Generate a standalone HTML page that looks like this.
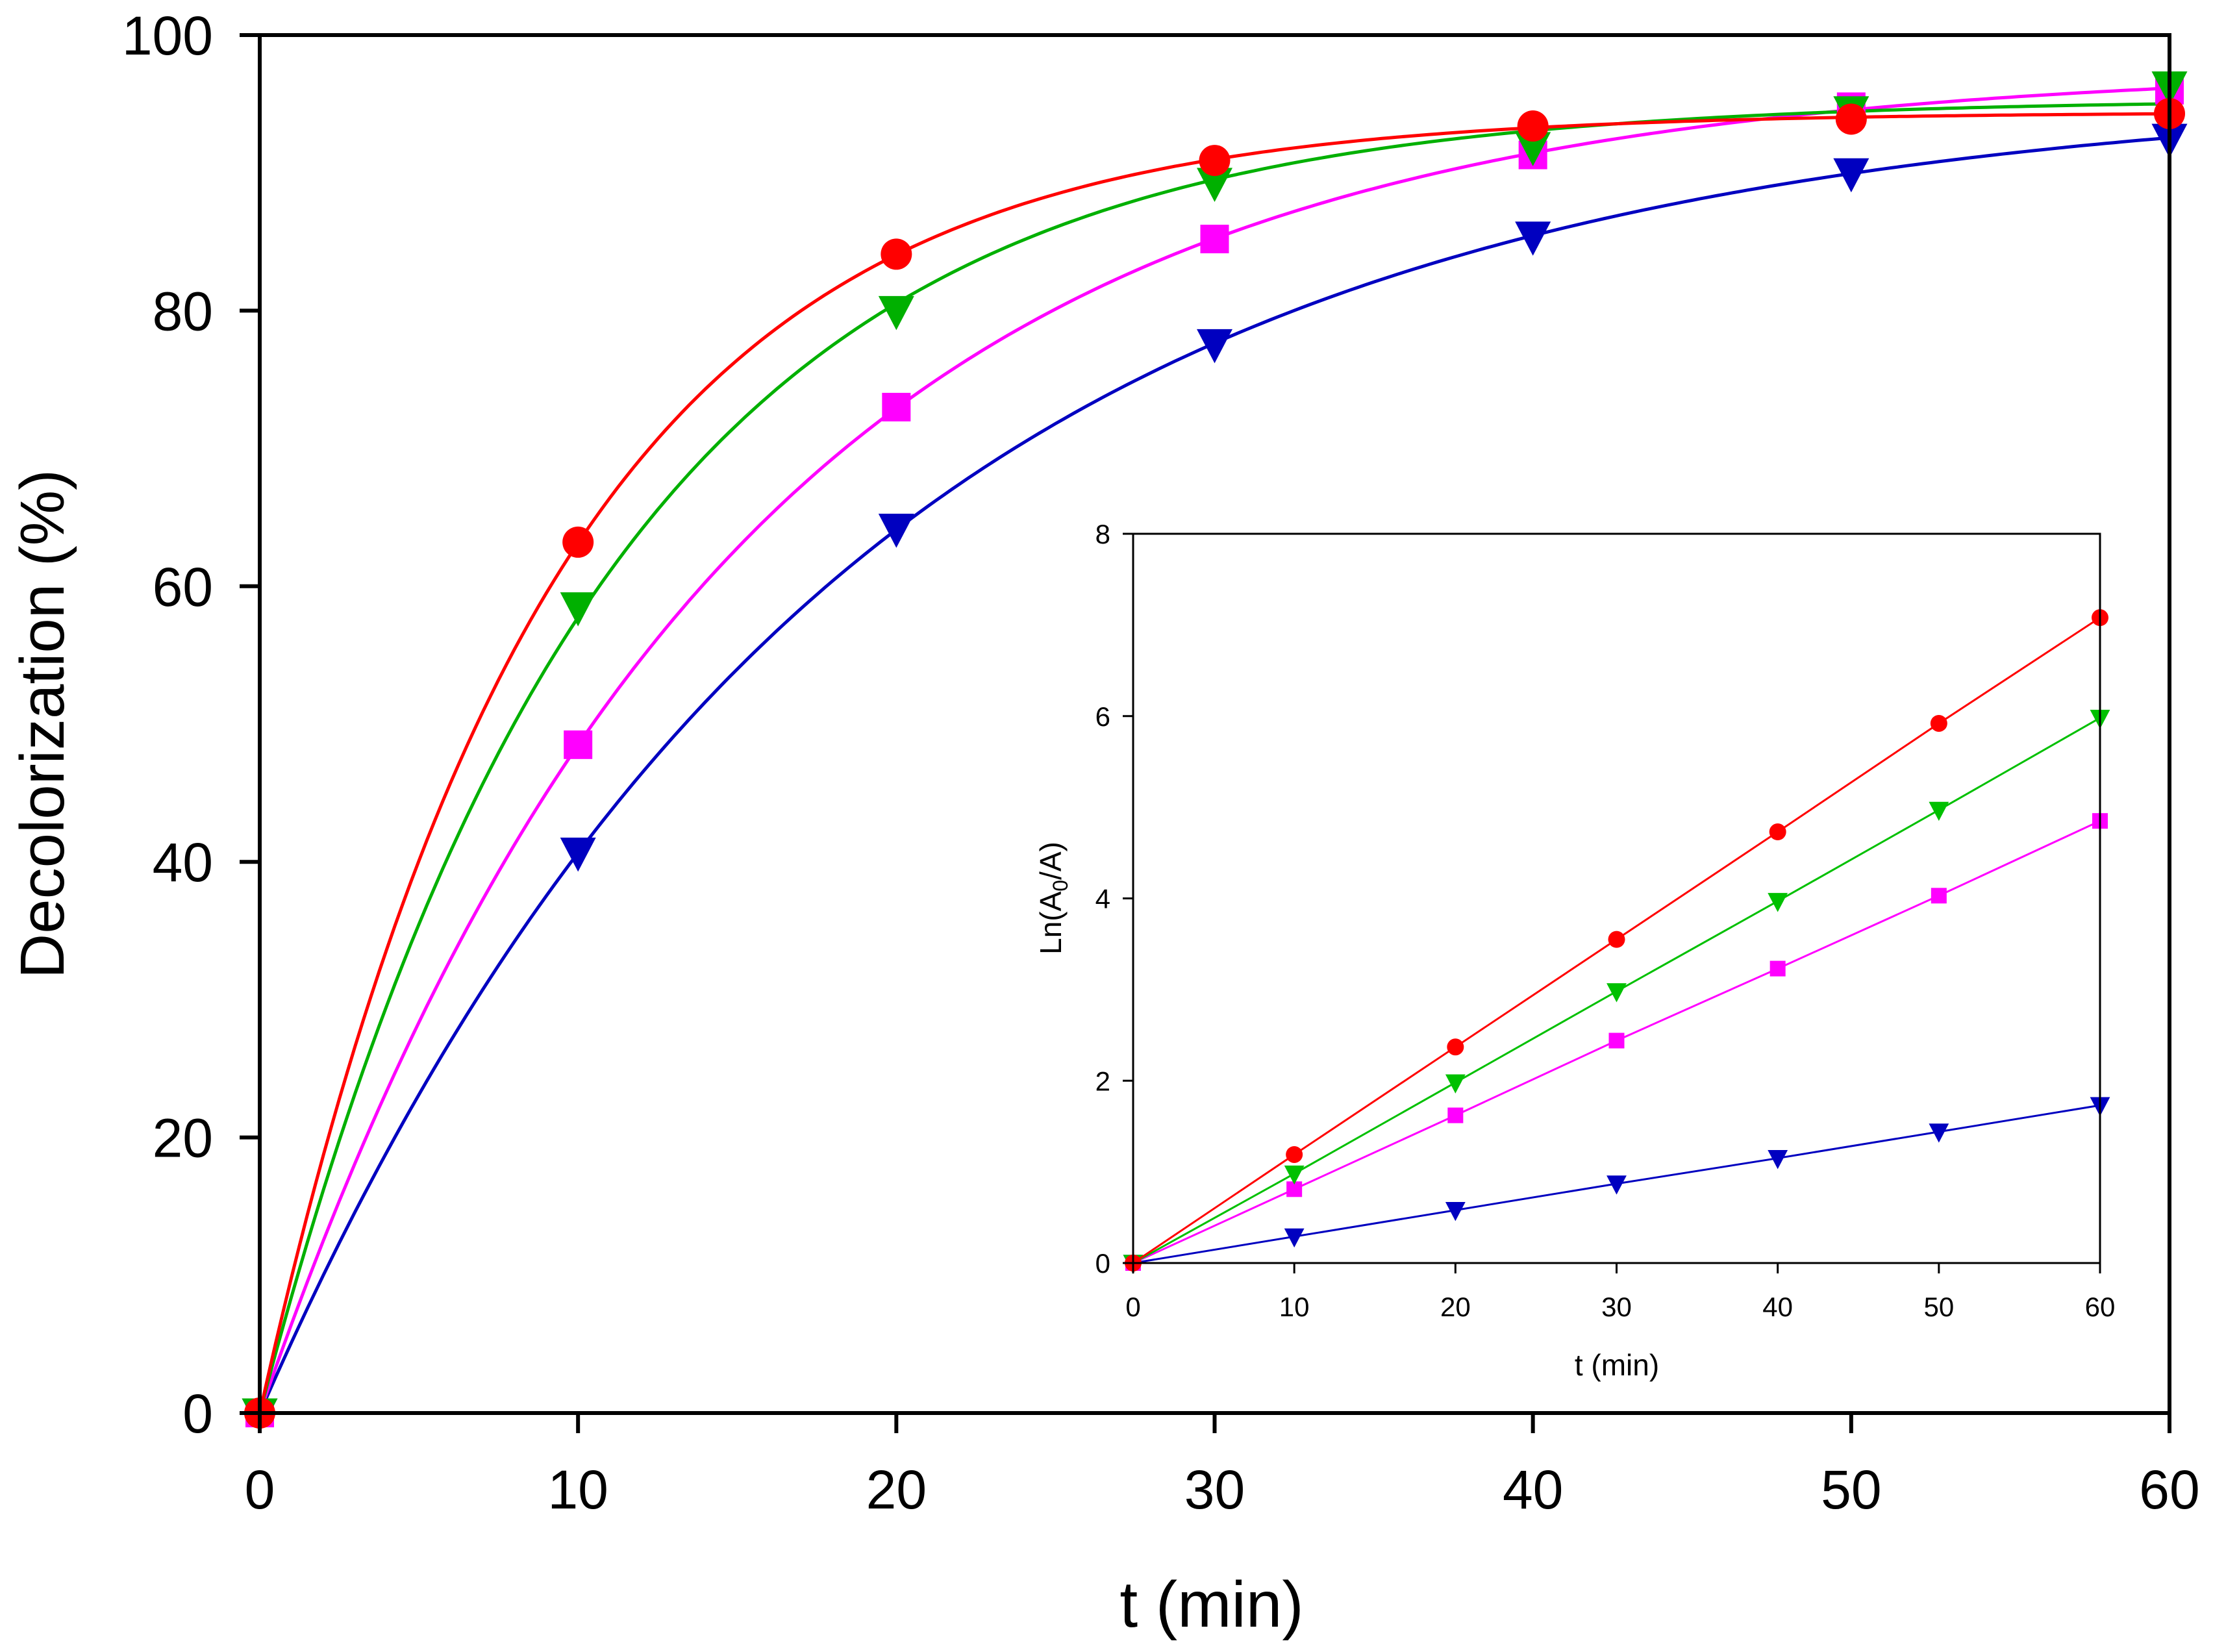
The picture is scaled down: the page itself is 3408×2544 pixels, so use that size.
<!DOCTYPE html>
<html><head><meta charset="utf-8"><style>
html,body{margin:0;padding:0;background:#fff;}
svg{display:block;font-family:"Liberation Sans",Arial,sans-serif;}
</style></head><body>
<svg id="chart" width="3408" height="2544" viewBox="0 0 3408 2544" xmlns="http://www.w3.org/2000/svg">
<rect width="3408" height="2544" fill="#fff"/>
<g id="main"></g>
<g id="inset"></g>
</svg>
<script>
const times = [0,10,20,30,40,50,60];
const mainRed = [0,63.2,84.1,90.9,93.4,93.9,94.3];
const mainGreen = [0,58.5,80.0,89.3,91.9,94.5,96.3];
const mainMagenta = [0,48.5,73.0,85.2,91.3,94.8,96.0];
const mainBlue = [0,40.7,64.2,77.6,85.4,90.0,92.5];
const mainYTicks = [0,20,40,60,80,100];
const mainXTicks = [0,10,20,30,40,50,60];
const insetRed = [0,1.19,2.37,3.55,4.73,5.92,7.08];
const insetGreen = [0,0.98,1.98,2.98,3.97,4.97,5.98];
const insetMagenta = [0,0.81,1.62,2.44,3.23,4.03,4.85];
const insetBlue = [0,0.29,0.58,0.87,1.15,1.44,1.73];
const insetYTicks = [0,2,4,6,8];
const insetXTicks = [0,10,20,30,40,50,60];

const NS="http://www.w3.org/2000/svg";
function mk(parent,tag,attrs,text){const e=document.createElementNS(NS,tag);for(const k in attrs)e.setAttribute(k,attrs[k]);if(text!==undefined)e.textContent=text;parent.appendChild(e);return e;}

// least-squares fit of y = a(1-exp(-k t)) to the data arrays
function fitExp(ts,ys){
  let best={a:0,k:0,e:Infinity};
  for(let k=0.005;k<=0.4;k+=0.0005){
    let sfy=0,sff=0;
    ts.forEach((t,i)=>{const f=1-Math.exp(-k*t);sfy+=f*ys[i];sff+=f*f;});
    const a=sfy/sff;let e=0;
    ts.forEach((t,i)=>{const r=ys[i]-a*(1-Math.exp(-k*t));e+=r*r;});
    if(e<best.e)best={a:a,k:k,e:e};
  }
  return best;
}
function marker(g,type,cx,cy,s,color){
  let e;
  if(type==='circle')e=mk(g,'circle',{cx:cx,cy:cy,r:s/2,fill:color});
  else if(type==='square')e=mk(g,'rect',{x:cx-s/2,y:cy-s/2,width:s,height:s,fill:color});
  else e=mk(g,'polygon',{points:(cx-s*0.55)+","+(cy-s*0.45)+" "+(cx+s*0.55)+","+(cy-s*0.45)+" "+cx+","+(cy+s*0.6),fill:color});
  return e;
}

// ---- main chart ----
const M={l:400,r:3341,t:54,b:2176};
const mx=v=>M.l+(v-0)/60*(M.r-M.l);
const my=v=>M.b-(v-0)/100*(M.b-M.t);
const gm=document.getElementById('main');
const mainSeries=[
  {name:'blue',data:mainBlue,color:'#0000c0',type:'tri'},
  {name:'magenta',data:mainMagenta,color:'#ff00ff',type:'square'},
  {name:'green',data:mainGreen,color:'#00b000',type:'tri'},
  {name:'red',data:mainRed,color:'#ff0000',type:'circle'}];
mainSeries.forEach(s=>{
  const f=fitExp(times,s.data);
  let d="";
  for(let t=0;t<=60.001;t+=0.25){const v=f.a*(1-Math.exp(-f.k*t));d+=(t===0?"M":" L")+mx(t).toFixed(1)+","+my(v).toFixed(1);}
  const path=mk(gm,'path',{d:d,fill:'none',stroke:s.color,'stroke-width':5});
  
  
});
mainSeries.forEach(s=>{
  s.data.forEach((v,i)=>{const e=marker(gm,s.type,mx(times[i]),my(v),s.type==='circle'?48:(s.type==='square'?44:50),s.color);
    
    });
});
const frame=mk(gm,'path',{d:`M${M.l},${M.t} H${M.r} V${M.b} H${M.l} Z`,fill:'none',stroke:'#000','stroke-width':6});


mainYTicks.forEach(v=>{
  mk(gm,'line',{x1:M.l-31,x2:M.l,y1:my(v),y2:my(v),stroke:'#000','stroke-width':6});
  const t=mk(gm,'text',{x:328,y:my(v)+30,'text-anchor':'end','font-size':84,fill:'#000'},String(v));
  
  
});
mainXTicks.forEach(v=>{
  mk(gm,'line',{x1:mx(v),x2:mx(v),y1:M.b,y2:M.b+31,stroke:'#000','stroke-width':6});
  const t=mk(gm,'text',{x:mx(v),y:2323,'text-anchor':'middle','font-size':84,fill:'#000'},String(v));
  
  
});
const xt=mk(gm,'text',{x:1866,y:2505,'text-anchor':'middle','font-size':100,fill:'#000'},'t (min)');


const yt=mk(gm,'text',{x:0,y:0,'text-anchor':'middle','font-size':96,fill:'#000',transform:`translate(98,1115) rotate(-90)`},'Decolorization (%)');



// ---- inset ----
const I={l:1745,r:3234,t:822,b:1945};
const ix=v=>I.l+v/60*(I.r-I.l);
const iy=v=>I.b-v/8*(I.b-I.t);
const gi=document.getElementById('inset');
const bg=mk(gi,'rect',{x:I.l,y:I.t,width:I.r-I.l,height:I.b-I.t,fill:'#fff'});


const insetSeries=[
  {name:'blue',data:insetBlue,color:'#0000c0',type:'tri'},
  {name:'magenta',data:insetMagenta,color:'#ff00ff',type:'square'},
  {name:'green',data:insetGreen,color:'#00c000',type:'tri'},
  {name:'red',data:insetRed,color:'#ff0000',type:'circle'}];
insetSeries.forEach(s=>{
  const pts=s.data.map((v,i)=>ix(times[i])+","+iy(v)).join(" ");
  const pl=mk(gi,'polyline',{points:pts,fill:'none',stroke:s.color,'stroke-width':3});
  
  
  s.data.forEach((v,i)=>{const e=marker(gi,s.type,ix(times[i]),iy(v),s.type==='circle'?26:(s.type==='square'?24:28),s.color);
    
    });
});
const iframe=mk(gi,'path',{d:`M${I.l},${I.t} H${I.r} V${I.b} H${I.l} Z`,fill:'none',stroke:'#000','stroke-width':3});


insetYTicks.forEach(v=>{
  mk(gi,'line',{x1:I.l-16,x2:I.l,y1:iy(v),y2:iy(v),stroke:'#000','stroke-width':3});
  const t=mk(gi,'text',{x:1710,y:iy(v)+15,'text-anchor':'end','font-size':42,fill:'#000'},String(v));
  
  
});
insetXTicks.forEach(v=>{
  mk(gi,'line',{x1:ix(v),x2:ix(v),y1:I.b,y2:I.b+16,stroke:'#000','stroke-width':3});
  const t=mk(gi,'text',{x:ix(v),y:2027,'text-anchor':'middle','font-size':42,fill:'#000'},String(v));
  
  
});
const ixt=mk(gi,'text',{x:2490,y:2118,'text-anchor':'middle','font-size':46,fill:'#000'},'t (min)');


const iyt=mk(gi,'text',{x:0,y:0,'text-anchor':'middle','font-size':46,fill:'#000',transform:'translate(1634,1383) rotate(-90)'});


iyt.innerHTML='Ln(A<tspan font-size="32" dy="10">0</tspan><tspan dy="-10">/A)</tspan>';
</script>
</body></html>
